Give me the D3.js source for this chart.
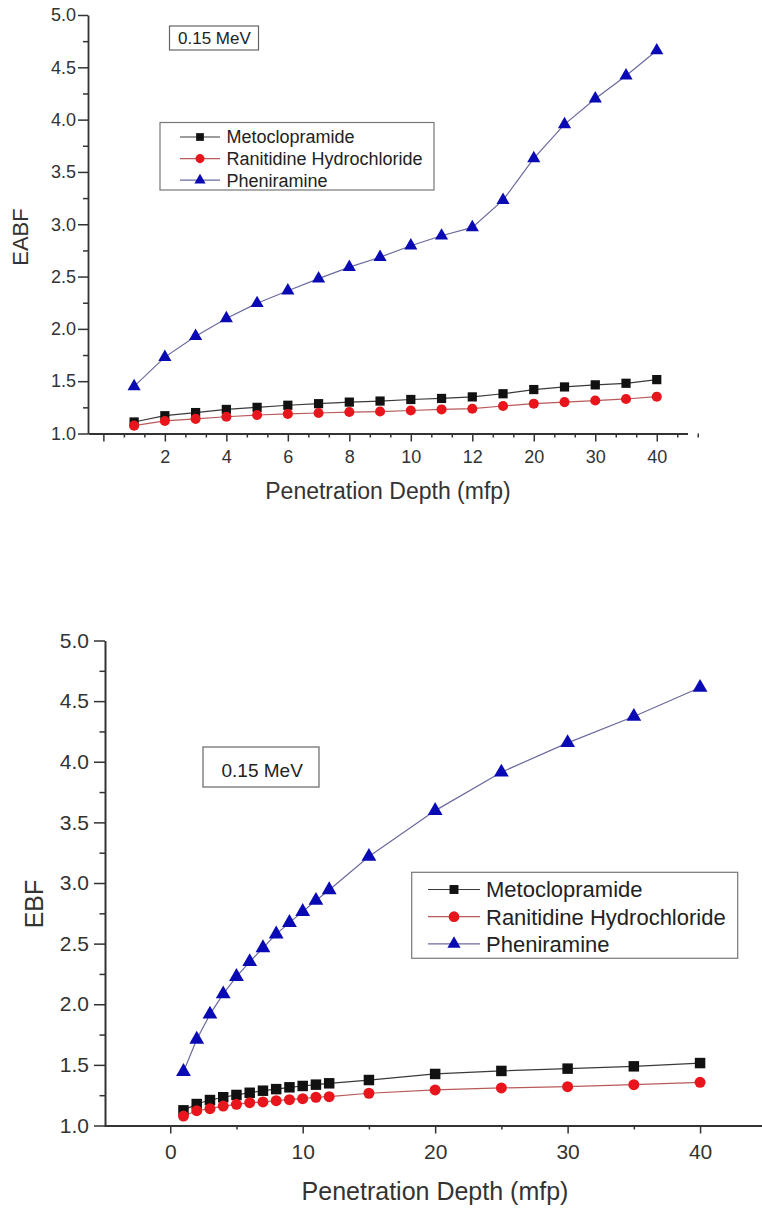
<!DOCTYPE html>
<html>
<head>
<meta charset="utf-8">
<script src="https://cdn.jsdelivr.net/npm/d3@7"></script>
<style>
  html, body { margin: 0; padding: 0; background: #fff; }
  svg { display: block; font-family: "Liberation Sans", Arial, sans-serif; }
</style>
</head>
<body>
<svg id="chart" width="762" height="1210"></svg>
<script>
// ---------- DATA ----------
const seriesNames = ["Metoclopramide", "Ranitidine Hydrochloride", "Pheniramine"];
const depths = [1, 2, 3, 4, 5, 6, 7, 8, 9, 10, 11, 12, 15, 20, 25, 30, 35, 40];

// Top chart: EABF
const eabfMetoclopramide = [1.11, 1.17, 1.20, 1.23, 1.25, 1.27, 1.285, 1.30, 1.31, 1.325, 1.335, 1.35, 1.38, 1.42, 1.445, 1.465, 1.48, 1.515];
const eabfRanitidine     = [1.075, 1.12, 1.14, 1.16, 1.177, 1.187, 1.196, 1.205, 1.21, 1.22, 1.23, 1.237, 1.263, 1.285, 1.30, 1.315, 1.33, 1.352];
const eabfPheniramine    = [1.45, 1.73, 1.93, 2.10, 2.245, 2.365, 2.48, 2.59, 2.685, 2.795, 2.89, 2.97, 3.23, 3.63, 3.955, 4.20, 4.42, 4.66];

// Bottom chart: EBF
const ebfMetoclopramide = [1.125, 1.177, 1.21, 1.233, 1.252, 1.27, 1.287, 1.30, 1.315, 1.326, 1.337, 1.348, 1.375, 1.425, 1.45, 1.469, 1.488, 1.515];
const ebfRanitidine     = [1.078, 1.122, 1.139, 1.16, 1.175, 1.188, 1.194, 1.205, 1.213, 1.221, 1.233, 1.238, 1.266, 1.293, 1.31, 1.32, 1.337, 1.356];
const ebfPheniramine    = [1.444, 1.71, 1.917, 2.085, 2.228, 2.35, 2.465, 2.578, 2.673, 2.764, 2.855, 2.943, 3.218, 3.597, 3.914, 4.156, 4.373, 4.612];

const yMajorTicks = [1.0, 1.5, 2.0, 2.5, 3.0, 3.5, 4.0, 4.5, 5.0];
const yMinorTicks = [1.25, 1.75, 2.25, 2.75, 3.25, 3.75, 4.25, 4.75];
const topXMajorIdx = [0, 2, 4, 6, 8, 10, 12, 14, 16, 18];
const bottomXMajor = [0, 10, 20, 30, 40];
const bottomXMinor = [5, 15, 25, 35, 45];
const energyLabel = "0.15 MeV";

// ---------- STYLE ----------
const symColors = ["#111111", "#e8161c", "#0a0ab4"];
const lineColors = ["#3a3a3a", "#b85a5a", "#6a6a9e"];
const symTypes = [d3.symbolSquare, d3.symbolCircle, d3.symbolTriangle];
const axisColor = "#333";

const svg = d3.select("#chart");

function styleAxis(g, fontSize, width) {
  g.select(".domain").attr("stroke", axisColor).attr("stroke-width", width);
  g.selectAll(".tick line").attr("stroke", axisColor).attr("stroke-width", 1.5);
  g.selectAll(".tick text").attr("fill", "#333").style("font-size", fontSize + "px")
    .style("font-family", '"Liberation Sans", Arial, sans-serif');
}

function symbolPath(type, size) {
  return d3.symbol().type(type).size(size)();
}

function drawChart(cfg) {
  const g = svg.append("g");
  const x = cfg.x, y = cfg.y;

  // series
  cfg.series.forEach((vals, s) => {
    const pts = vals.map((v, i) => [cfg.xpos(i), y(v)]);
    g.append("path")
      .attr("d", d3.line()(pts))
      .attr("fill", "none")
      .attr("stroke", lineColors[s])
      .attr("stroke-width", 1.2);
  });
  cfg.series.forEach((vals, s) => {
    g.selectAll(null).data(vals).enter().append("path")
      .attr("d", symbolPath(symTypes[s], cfg.symSizes[s]))
      .attr("transform", (v, i) => `translate(${cfg.xpos(i)},${y(v)})`)
      .attr("fill", symColors[s]);
  });

  // y axis
  const yAx = g.append("g").attr("transform", `translate(${cfg.x0},0)`)
    .call(d3.axisLeft(y).tickValues(yMajorTicks).tickSize(cfg.yTick).tickPadding(cfg.yPad)
      .tickFormat(d3.format(".1f")).tickSizeOuter(0));
  styleAxis(yAx, cfg.tickFont, cfg.axisW);
  const yMin = g.append("g").attr("transform", `translate(${cfg.x0},0)`)
    .call(d3.axisLeft(y).tickValues(yMinorTicks).tickSize(cfg.yTick / 2).tickFormat(""));
  yMin.select(".domain").remove();
  yMin.selectAll(".tick line").attr("stroke", axisColor).attr("stroke-width", 1.5);

  // x axis
  const xAx = g.append("g").attr("transform", `translate(0,${cfg.y0})`)
    .call(cfg.xAxisMajor);
  styleAxis(xAx, cfg.tickFont, cfg.axisW);
  const xMin = g.append("g").attr("transform", `translate(0,${cfg.y0})`)
    .call(cfg.xAxisMinor);
  xMin.select(".domain").remove();
  xMin.selectAll(".tick line").attr("stroke", axisColor).attr("stroke-width", 1.5);

  // titles
  g.append("text")
    .attr("x", cfg.xTitle[0]).attr("y", cfg.xTitle[1])
    .attr("text-anchor", "middle").attr("fill", "#333")
    .style("font-size", cfg.titleFont + "px")
    .text("Penetration Depth (mfp)");
  g.append("text")
    .attr("transform", `translate(${cfg.yTitle[0]},${cfg.yTitle[1]}) rotate(-90)`)
    .attr("text-anchor", "middle").attr("fill", "#333")
    .style("font-size", cfg.yTitleFont + "px")
    .text(cfg.yLabel);

  // energy box
  const eb = cfg.energyBox;
  g.append("rect").attr("x", eb.x).attr("y", eb.y).attr("width", eb.w).attr("height", eb.h)
    .attr("fill", "#fff").attr("stroke", "#666").attr("stroke-width", 1.2);
  g.append("text").attr("x", eb.tx).attr("y", eb.ty).attr("fill", "#222")
    .style("font-size", eb.font + "px").text(energyLabel);

  // legend
  const L = cfg.legend;
  g.append("rect").attr("x", L.x).attr("y", L.y).attr("width", L.w).attr("height", L.h)
    .attr("fill", "#fff").attr("stroke", "#777").attr("stroke-width", 1.2);
  seriesNames.forEach((name, s) => {
    const cy = L.row0 + s * L.rowH;
    g.append("line").attr("x1", L.lx1).attr("x2", L.lx2).attr("y1", cy).attr("y2", cy)
      .attr("stroke", lineColors[s]).attr("stroke-width", 1.2);
    g.append("path").attr("d", symbolPath(symTypes[s], L.symSizes[s]))
      .attr("transform", `translate(${L.sx},${cy})`).attr("fill", symColors[s]);
    g.append("text").attr("x", L.tx).attr("y", cy).attr("dy", "0.36em").attr("fill", "#222")
      .style("font-size", L.font + "px").text(name);
  });
}

// ---------- TOP CHART ----------
const xTop = d3.scaleLinear().domain([-0.5, 19]).range([88, 687.5]);
const yTop = d3.scaleLinear().domain([1, 5]).range([433.5, 15]);
const topMinorIdx = [];
topXMajorIdx.forEach(i => { topMinorIdx.push(i + 2 / 3, i + 4 / 3); });

drawChart({
  x: xTop, y: yTop, x0: 88, y0: 433.5,
  xpos: i => xTop(i + 1),
  series: [eabfMetoclopramide, eabfRanitidine, eabfPheniramine],
  symSizes: [85, 80, 75],
  yTick: 10, yPad: 2, tickFont: 18, axisW: 1.8,
  xAxisMajor: d3.axisBottom(xTop).tickValues(topXMajorIdx).tickSize(8).tickPadding(9)
    .tickSizeOuter(0).tickFormat(i => i === 0 ? "" : String(depths[i - 1])),
  xAxisMinor: d3.axisBottom(xTop).tickValues(topMinorIdx).tickSize(4).tickFormat(""),
  xTitle: [388, 499], titleFont: 23,
  yTitle: [28, 237], yTitleFont: 22, yLabel: "EABF",
  energyBox: { x: 169.5, y: 26, w: 89, h: 24, tx: 178, ty: 44, font: 17 },
  legend: { x: 160, y: 122.5, w: 274, h: 67.5, row0: 137, rowH: 21.6,
            lx1: 180, lx2: 220, sx: 200, tx: 226.5, font: 18, symSizes: [60, 65, 55] }
});

// ---------- BOTTOM CHART ----------
const xBot = d3.scaleLinear().domain([-5, 45]).range([104, 766.3]);
const yBot = d3.scaleLinear().domain([1, 5]).range([1125.5, 640.5]);

drawChart({
  x: xBot, y: yBot, x0: 105, y0: 1125.5,
  xpos: i => xBot(depths[i]),
  series: [ebfMetoclopramide, ebfRanitidine, ebfPheniramine],
  symSizes: [110, 95, 95],
  yTick: 11, yPad: 5, tickFont: 21, axisW: 2,
  xAxisMajor: d3.axisBottom(xBot).tickValues(bottomXMajor).tickSize(8).tickPadding(11)
    .tickSizeOuter(0).tickFormat(d3.format("d")),
  xAxisMinor: d3.axisBottom(xBot).tickValues(bottomXMinor).tickSize(4).tickFormat(""),
  xTitle: [435, 1200], titleFont: 25,
  yTitle: [43, 904], yTitleFont: 25, yLabel: "EBF",
  energyBox: { x: 203, y: 747, w: 116, h: 40, tx: 221.5, ty: 777, font: 19 },
  legend: { x: 411.7, y: 872.3, w: 326, h: 86, row0: 889.5, rowH: 27.2,
            lx1: 428, lx2: 480, sx: 454, tx: 486, font: 22, symSizes: [80, 90, 75] }
});
</script>
</body>
</html>
